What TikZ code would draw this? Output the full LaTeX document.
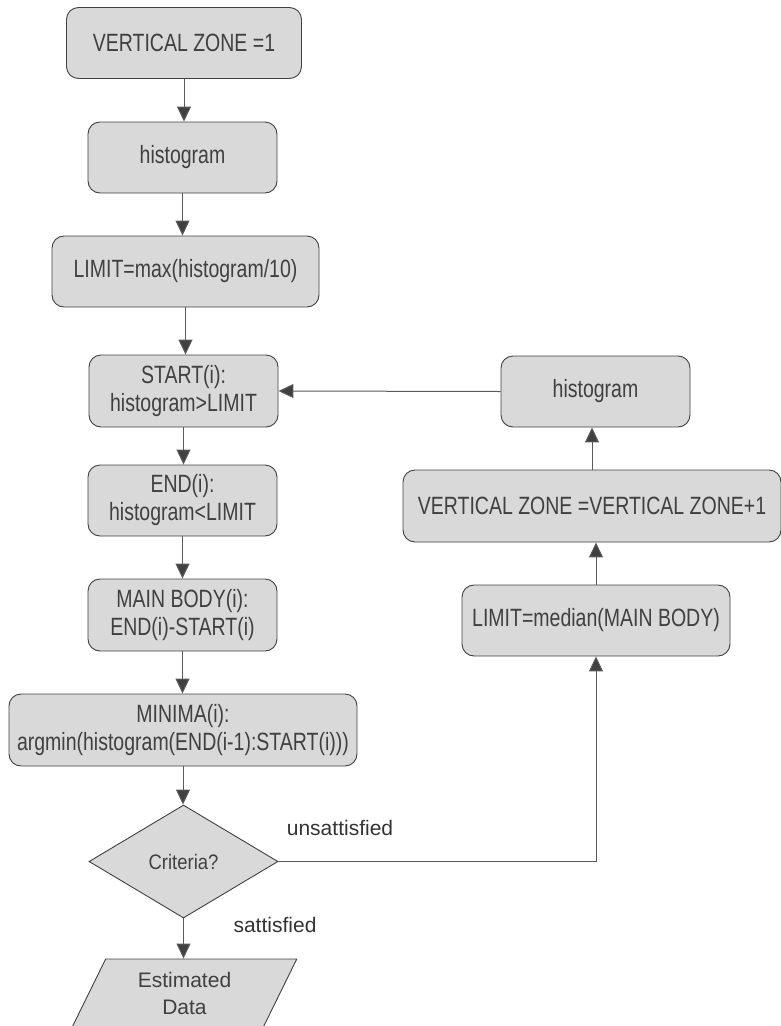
\documentclass[tikz,border=0pt]{standalone}
\usepackage{fontspec}
\setmainfont{Liberation Sans}
\newfontfamily\narrowfont{Liberation Sans}[FakeStretch=0.78]
\newfontfamily\critfont{Liberation Sans}[FakeStretch=0.88]
\usetikzlibrary{arrows.meta,shapes.geometric}
\definecolor{boxfill}{HTML}{D9D9D9}
\definecolor{boxline}{HTML}{404040}
\definecolor{flowline}{HTML}{5A5A5A}
\tikzset{
  procbox/.style={draw=boxline, fill=boxfill, rounded corners=12pt, line width=0.9pt,
    inner sep=0pt, align=center, text=boxline, minimum height=71pt,
    font=\fontsize{25}{28}\narrowfont},
  decision/.style={diamond, draw=boxline, fill=boxfill, line width=0.9pt, inner sep=0pt,
    minimum width=189pt, minimum height=113pt, text=boxline, font=\fontsize{21}{25}\critfont},
  iobox/.style={trapezium, trapezium left angle=65, trapezium right angle=115,
    trapezium stretches=true, draw=boxline, fill=boxfill, line width=0.9pt, inner sep=0pt,
    minimum width=225pt, minimum height=68pt, align=center, text=boxline,
    font=\fontsize{21}{27}\selectfont},
  flow/.style={draw=flowline, line width=1pt, -{Triangle[width=14pt,length=15pt,fill=boxline]}},
  lbl/.style={text=black!80, font=\fontsize{21}{25}\selectfont}
}
\begin{document}
\begin{tikzpicture}[x=1pt,y=-1pt]
\useasboundingbox (0,0) rectangle (781,1026);

% Left column
\node[procbox, minimum width=235pt] (vz1) at (184,43) {VERTICAL ZONE =1};
\node[procbox, minimum width=189pt] (hist1) at (182.5,157.5) {histogram};
\node[procbox, minimum width=267pt] (limmax) at (185.5,271.5) {LIMIT=max(histogram/10)};
\node[procbox, minimum width=189pt, minimum height=72pt] (start) at (183.5,391) {START(i):\\histogram>LIMIT};
\node[procbox, minimum width=189pt] (endi) at (182.5,500.5) {END(i):\\histogram<LIMIT};
\node[procbox, minimum width=189pt, minimum height=72pt] (mainbody) at (182.5,615) {MAIN BODY(i):\\END(i)-START(i)};
\node[procbox, minimum width=348pt, minimum height=72pt] (minima) at (183,730) {MINIMA(i):\\argmin(histogram(END(i-1):START(i)))};
\node[decision] (crit) at (183.5,861.5) {Criteria?};
\node[iobox] (estdata) at (184.5,993) {Estimated\\Data};

% Right column
\node[procbox, minimum width=189pt] (hist2) at (595.5,391.5) {histogram};
\node[procbox, minimum width=378pt, minimum height=72pt] (vzplus) at (592,506) {VERTICAL ZONE =VERTICAL ZONE+1};
\node[procbox, minimum width=268pt] (limmed) at (596,620.5) {LIMIT=median(MAIN BODY)};

% Branch labels
\node[lbl] (unsat) at (340,828) {unsattisfied};
\node[lbl] (sat) at (275,925) {sattisfied};

% Main flow
\draw[flow] (vz1.south) -- (vz1.south |- hist1.north);
\draw[flow] (hist1.south) -- (hist1.south |- limmax.north);
\draw[flow] (limmax.south) -- (limmax.south |- start.north);
\draw[flow] (start.south) -- (start.south |- endi.north);
\draw[flow] (endi.south) -- (endi.south |- mainbody.north);
\draw[flow] (mainbody.south) -- (mainbody.south |- minima.north);
\draw[flow] (minima.south) -- (minima.south |- crit.north);
\draw[flow] (crit.south) -- (crit.south |- estdata.north);

% Loop back
\draw[flow] (crit.east) -| (limmed.south);
\draw[flow] (limmed.north) -- (limmed.north |- vzplus.south);
\draw[flow] (vzplus.north) -- (vzplus.north |- hist2.south);
\draw[flow] (hist2.west) -- (start.east);
\end{tikzpicture}
\end{document}
